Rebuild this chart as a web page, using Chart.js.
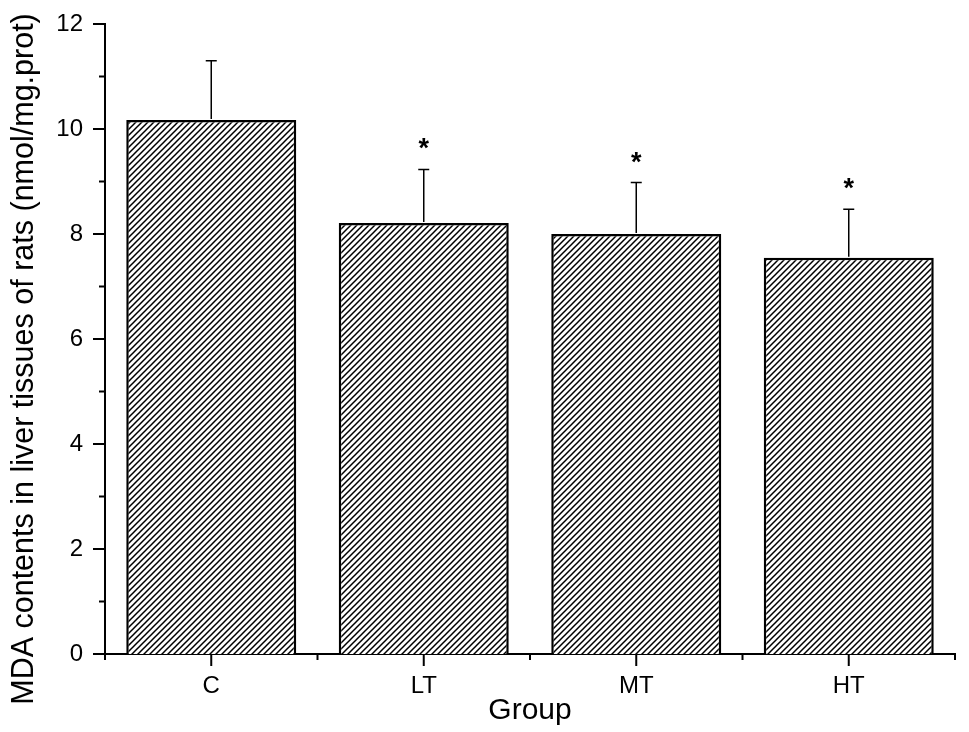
<!DOCTYPE html>
<html>
<head>
<meta charset="utf-8">
<script src="https://cdn.jsdelivr.net/npm/chart.js@4"></script>
<style>
html,body{margin:0;padding:0;background:#fff;}
#wrap{width:969px;height:732px;position:relative;}
</style>
</head>
<body>
<div id="wrap"><canvas id="c" width="969" height="732"></canvas></div>
<script>
const groups = ['C', 'LT', 'MT', 'HT'];
const meanValues = [10.17, 8.21, 8.0, 7.55];
const sdValues = [1.13, 1.02, 0.98, 0.92];
const significant = [false, true, true, true];
const yTickValues = [0, 2, 4, 6, 8, 10, 12];
const yTitle = 'MDA contents in liver tissues of rats (nmol/mg.prot)';
const xTitle = 'Group';

const FONT = 'Arial, "Liberation Sans", sans-serif';

function makeHatch() {
  const s = 6;
  const p = document.createElement('canvas');
  p.width = s; p.height = s;
  const g = p.getContext('2d');
  g.fillStyle = '#fff';
  g.fillRect(0, 0, s, s);
  g.strokeStyle = '#000';
  g.lineWidth = 1.5;
  g.beginPath();
  g.moveTo(-1, s + 1); g.lineTo(s + 1, -1);
  g.moveTo(-1, 1); g.lineTo(1, -1);
  g.moveTo(s - 1, s + 1); g.lineTo(s + 1, s - 1);
  g.stroke();
  return g.createPattern(p, 'repeat');
}

const ctx0 = document.getElementById('c').getContext('2d');
const hatch = makeHatch();

const decorPlugin = {
  id: 'decor',
  afterDatasetsDraw(chart) {
    const ctx = chart.ctx;
    const ys = chart.scales.y;
    const meta = chart.getDatasetMeta(0);
    ctx.save();
    ctx.strokeStyle = '#000';
    ctx.lineWidth = 1.5;
    meta.data.forEach((bar, i) => {
      const top = ys.getPixelForValue(meanValues[i] + sdValues[i]);
      ctx.beginPath();
      ctx.moveTo(bar.x, bar.y - 1);
      ctx.lineTo(bar.x, top);
      ctx.moveTo(bar.x - 5.5, top);
      ctx.lineTo(bar.x + 5.5, top);
      ctx.stroke();
      if (significant[i]) {
        ctx.fillStyle = '#000';
        ctx.font = 'bold 27px ' + FONT;
        ctx.textAlign = 'center';
        ctx.textBaseline = 'alphabetic';
        ctx.fillText('*', bar.x, top - 12);
      }
    });
    ctx.restore();
  },
  afterDraw(chart) {
    const ctx = chart.ctx;
    const xs = chart.scales.x, ys = chart.scales.y;
    const area = chart.chartArea;
    ctx.save();
    ctx.strokeStyle = '#000';
    ctx.lineWidth = 2;
    for (let v = ys.min; v <= ys.max; v += 1) {
      const y = ys.getPixelForValue(v);
      const len = (v % 2 === 0) ? 12 : 6;
      ctx.beginPath();
      ctx.moveTo(area.left, y);
      ctx.lineTo(area.left - len, y);
      ctx.stroke();
    }
    const n = groups.length;
    for (let i = 0; i < n; i++) {
      const x = xs.getPixelForValue(i);
      ctx.beginPath();
      ctx.moveTo(x, area.bottom);
      ctx.lineTo(x, area.bottom + 12);
      ctx.stroke();
    }
    for (let i = 0; i <= n; i++) {
      const x = xs.getPixelForValue(i - 0.5);
      ctx.beginPath();
      ctx.moveTo(x, area.bottom);
      ctx.lineTo(x, area.bottom + 6);
      ctx.stroke();
    }
    ctx.fillStyle = '#000';
    ctx.font = '30px ' + FONT;
    ctx.textAlign = 'center';
    ctx.textBaseline = 'alphabetic';
    ctx.fillText(xTitle, (area.left + area.right) / 2, 719);
    ctx.translate(33, 359);
    ctx.rotate(-Math.PI / 2);
    ctx.font = '30.5px ' + FONT;
    ctx.fillText(yTitle, 0, 0);
    ctx.restore();
  }
};

new Chart(ctx0, {
  type: 'bar',
  data: {
    labels: groups,
    datasets: [{
      data: meanValues,
      backgroundColor: hatch,
      borderColor: '#000',
      borderWidth: 2.5,
      borderSkipped: 'bottom',
      barPercentage: 0.8,
      categoryPercentage: 1.0
    }]
  },
  options: {
    responsive: false,
    animation: false,
    events: [],
    layout: { padding: { top: 24, right: 14, left: 0, bottom: 0 } },
    plugins: { legend: { display: false }, tooltip: { enabled: false } },
    scales: {
      x: {
        grid: { display: false, drawTicks: false },
        border: { display: true, color: '#000', width: 2 },
        ticks: { color: '#000', font: { family: FONT, size: 24 }, padding: 18 },
        afterFit(scale) { scale.height = 78; scale.paddingLeft = 0; scale.paddingRight = 0; }
      },
      y: {
        min: 0, max: 12,
        afterBuildTicks(scale) { scale.ticks = yTickValues.map(v => ({ value: v })); },
        grid: { display: false, drawTicks: false },
        border: { display: true, color: '#000', width: 2 },
        ticks: { color: '#000', font: { family: FONT, size: 24 }, padding: 22 },
        afterFit(scale) { scale.width = 105; scale.paddingTop = 0; scale.paddingBottom = 0; }
      }
    }
  },
  plugins: [decorPlugin]
});
</script>
</body>
</html>
